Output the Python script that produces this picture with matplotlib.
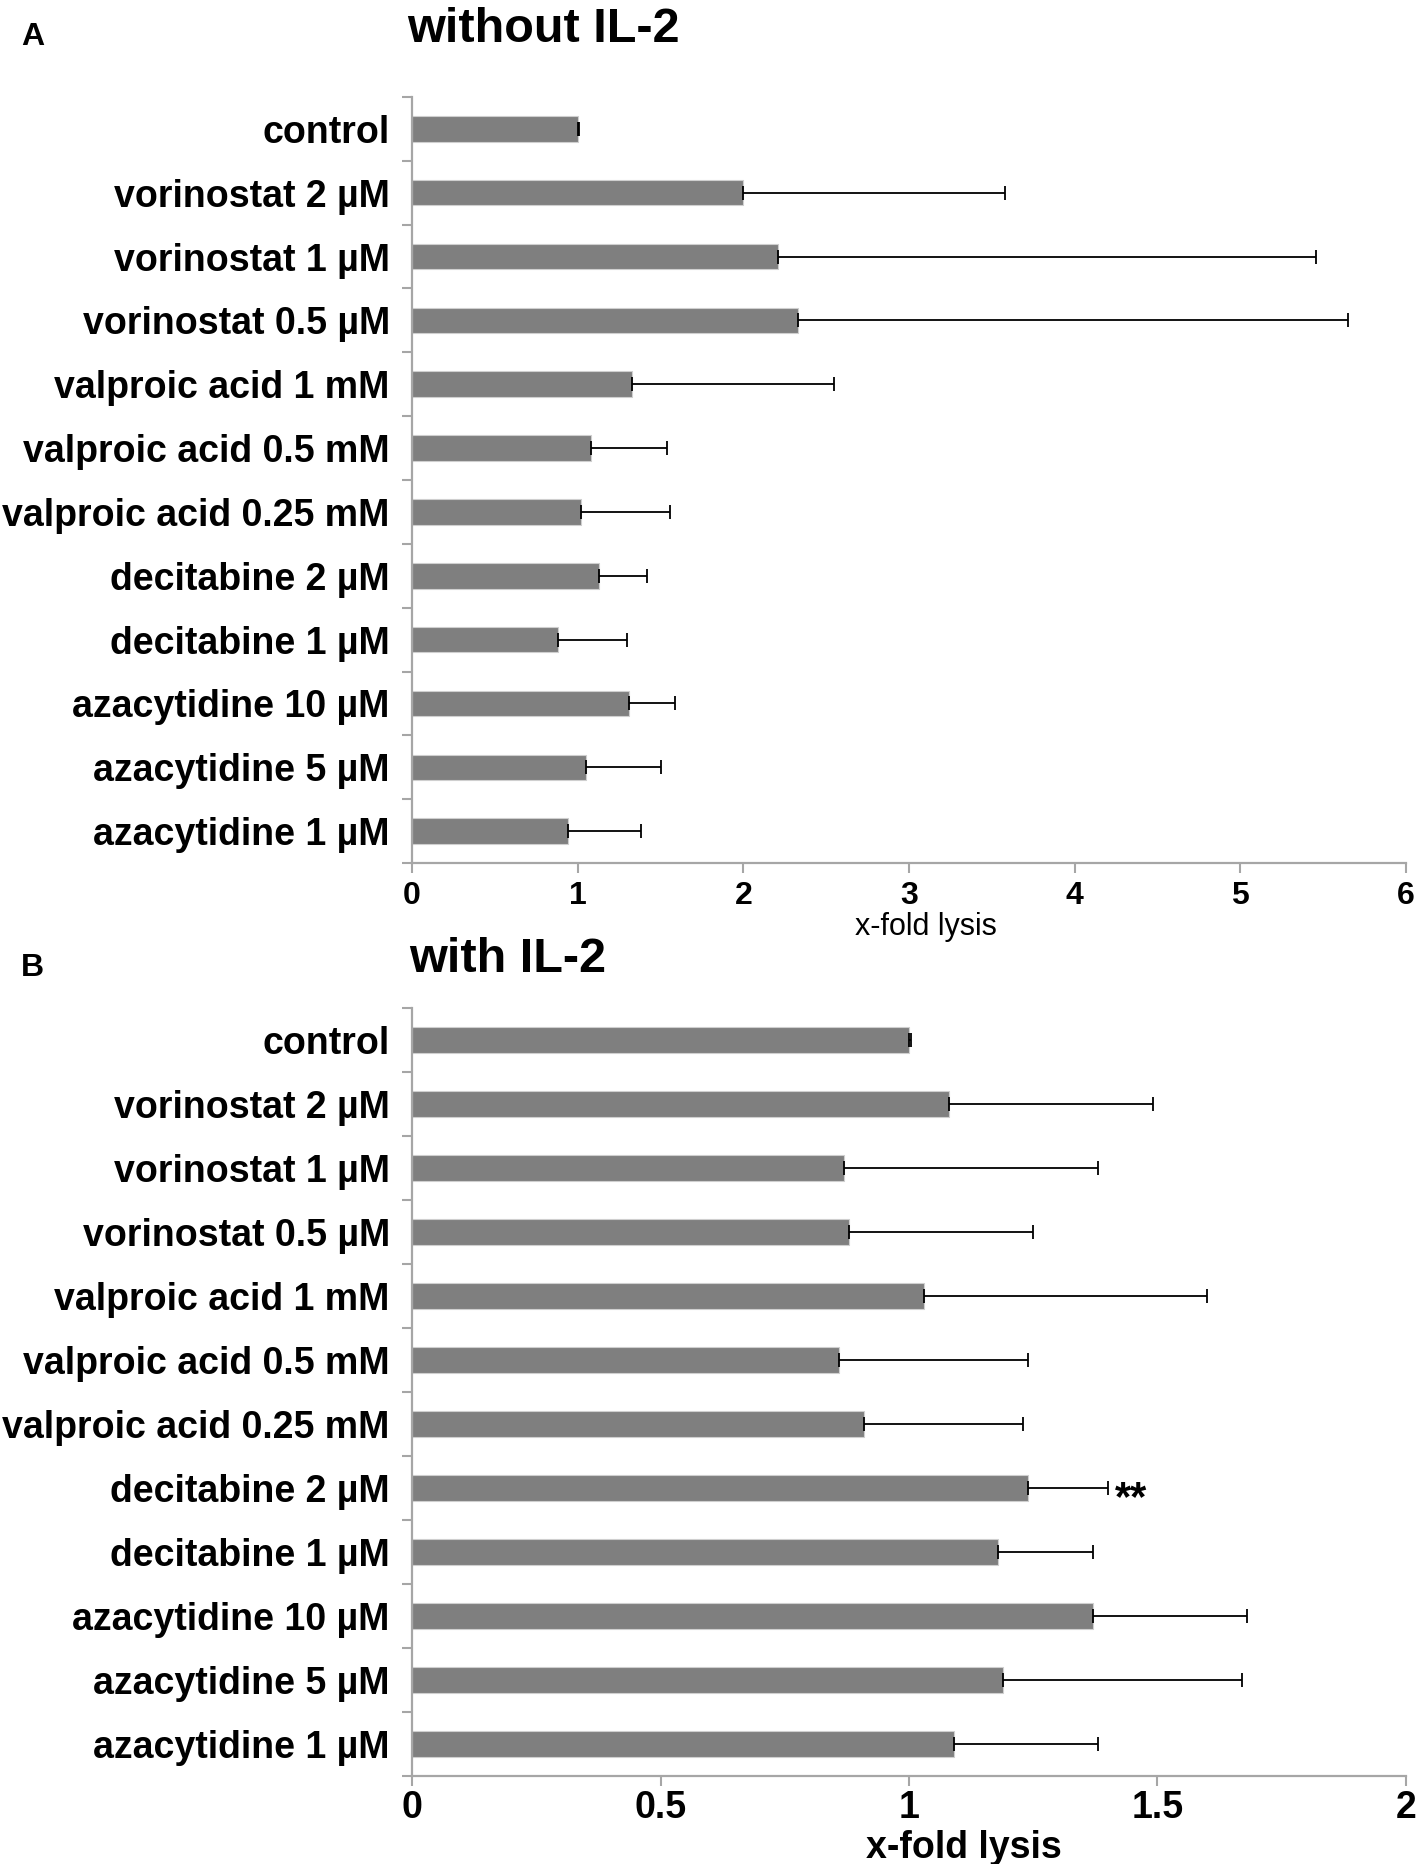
import numpy as np
import matplotlib
matplotlib.use("Agg")
import matplotlib.pyplot as plt
from matplotlib.ticker import FixedLocator

plt.rcParams["font.family"] = ["Liberation Sans Narrow", "Liberation Sans", "DejaVu Sans"]
plt.rcParams["font.weight"] = "bold"

# treatments, top to bottom
categories = [
    "control",
    "vorinostat 2 µM",
    "vorinostat 1 µM",
    "vorinostat 0.5 µM",
    "valproic acid 1 mM",
    "valproic acid 0.5 mM",
    "valproic acid 0.25 mM",
    "decitabine 2 µM",
    "decitabine 1 µM",
    "azacytidine 10 µM",
    "azacytidine 5 µM",
    "azacytidine 1 µM",
]

# panel A: without IL-2 (mean x-fold lysis and upper error)
lysis_no_il2 = [1.00, 2.00, 2.21, 2.33, 1.33, 1.08, 1.02, 1.13, 0.88, 1.31, 1.05, 0.94]
err_no_il2 = [0.01, 1.58, 3.25, 3.32, 1.22, 0.46, 0.54, 0.29, 0.42, 0.28, 0.45, 0.44]

# panel B: with IL-2
lysis_il2 = [1.00, 1.08, 0.87, 0.88, 1.03, 0.86, 0.91, 1.24, 1.18, 1.37, 1.19, 1.09]
err_il2 = [0.005, 0.41, 0.51, 0.37, 0.57, 0.38, 0.32, 0.16, 0.19, 0.31, 0.48, 0.29]

# significance marks in panel B
sig_label = "decitabine 2 µM"
sig_text = "**"

xticks_a = [0, 1, 2, 3, 4, 5, 6]
xticks_b = [0, 0.5, 1, 1.5, 2]

BAR = "#7f7f7f"
AXIS = "#a6a6a6"

fig = plt.figure(figsize=(14.17, 18.64), dpi=100)
ax_a = fig.add_axes([0.2908, 0.537, 0.7014, 0.411])
ax_b = fig.add_axes([0.2908, 0.0472, 0.7014, 0.412])


def draw_panel(ax, vals, errs, xticks, tick_fs, tick_pad, xlabel, xlabel_fs, xlabel_weight, xlabel_pos):
    y = np.arange(len(categories))
    ax.barh(y, vals, height=0.4, color=BAR, edgecolor="#cfcfcf", linewidth=0.8, zorder=2)
    ax.errorbar(vals, y, xerr=[np.zeros(len(vals)), errs], fmt="none",
                ecolor="black", elinewidth=1.3, capsize=5, capthick=1.3, zorder=3)
    ax.set_ylim(len(categories) - 0.5, -0.5)
    ax.set_xlim(xticks[0], xticks[-1])
    ax.set_yticks(y)
    ax.set_yticklabels(categories, fontsize=27, fontweight="bold")
    ax.yaxis.set_minor_locator(FixedLocator(np.arange(-0.5, len(categories), 1.0)))
    ax.tick_params(axis="y", which="major", length=0, pad=16)
    ax.tick_params(axis="y", which="minor", length=7, width=1.5, color=AXIS, direction="out")
    ax.set_xticks(xticks)
    ax.set_xticklabels([f"{t:g}" for t in xticks], fontsize=tick_fs, fontweight="bold")
    ax.tick_params(axis="x", length=7, width=1.5, color=AXIS, direction="out", pad=tick_pad)
    ax.set_xlabel(xlabel, fontsize=xlabel_fs, fontweight=xlabel_weight)
    ax.xaxis.set_label_coords(*xlabel_pos)
    ax.xaxis.label.set_va("center")
    for side in ("top", "right"):
        ax.spines[side].set_visible(False)
    for side in ("left", "bottom"):
        ax.spines[side].set_color(AXIS)
        ax.spines[side].set_linewidth(1.6)


draw_panel(ax_a, lysis_no_il2, err_no_il2, xticks_a, 23, 6, "x-fold lysis", 22, "normal",
           (0.517, -0.084))
draw_panel(ax_b, lysis_il2, err_il2, xticks_b, 27, 3, "x-fold lysis", 27, "bold",
           (0.555, -0.094))

i = categories.index(sig_label)
ax_b.text(lysis_il2[i] + err_il2[i] + 0.015, i + 0.17, sig_text, fontsize=30,
          fontweight="bold", va="center", ha="left")

fig.text(0.015, 0.980, "A", fontsize=23, fontweight="bold", va="center", ha="left")
fig.text(0.015, 0.4807, "B", fontsize=23, fontweight="bold", va="center", ha="left")
fig.text(0.287, 0.984, "without IL-2", fontsize=35, fontweight="bold", va="center", ha="left")
fig.text(0.289, 0.4855, "with IL-2", fontsize=35, fontweight="bold", va="center", ha="left")

fig.savefig("out.png", dpi=100, facecolor="white")
